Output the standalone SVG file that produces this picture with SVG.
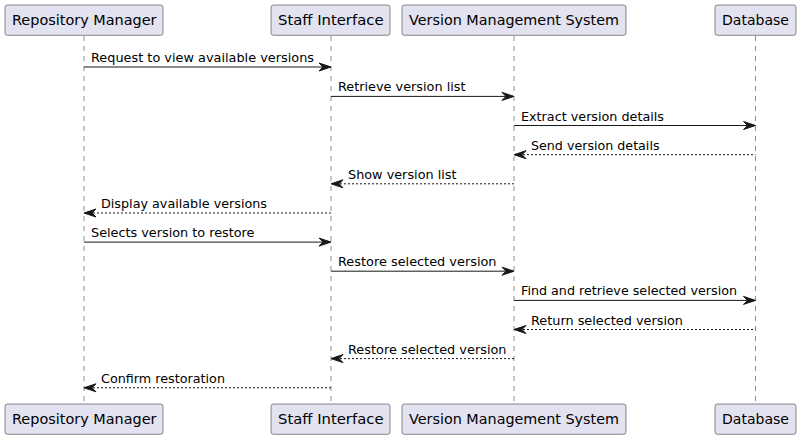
<svg xmlns="http://www.w3.org/2000/svg" width="801" height="440" viewBox="0 0 801 440">
<style>
.box{fill:#E2E2F0;stroke:#181818;stroke-width:0.5}
.life{stroke:#181818;stroke-width:0.5;stroke-dasharray:5,5;fill:none}
.pt{font-family:"DejaVu Sans",sans-serif;font-size:14px;fill:#000}
.mt{font-family:"DejaVu Sans",sans-serif;font-size:12.8px;fill:#000}
.msg{stroke:#181818;stroke-width:1;fill:none}
.ret{stroke:#181818;stroke-width:1;stroke-dasharray:2,2;fill:none}
.ah{fill:#181818;stroke:#181818;stroke-width:1}
</style>
<rect width="801" height="440" fill="#FFFFFF"/>
<g id="lifelines">
<line class="life" x1="84" y1="36" x2="84" y2="404"/>
<line class="life" x1="331" y1="36" x2="331" y2="404"/>
<line class="life" x1="514" y1="36" x2="514" y2="404"/>
<line class="life" x1="755.5" y1="36" x2="755.5" y2="404"/>
</g>
<g id="repository-manager">
<rect class="box" x="5" y="5" width="158" height="30.3" rx="2.5"/>
<text class="pt" x="12" y="25" textLength="144.5" lengthAdjust="spacingAndGlyphs">Repository Manager</text>
<rect class="box" x="5" y="404" width="158" height="30.3" rx="2.5"/>
<text class="pt" x="12" y="424" textLength="144.5" lengthAdjust="spacingAndGlyphs">Repository Manager</text>
</g>
<g id="staff-interface">
<rect class="box" x="271" y="5" width="119" height="30.3" rx="2.5"/>
<text class="pt" x="278" y="25" textLength="105.5" lengthAdjust="spacingAndGlyphs">Staff Interface</text>
<rect class="box" x="271" y="404" width="119" height="30.3" rx="2.5"/>
<text class="pt" x="278" y="424" textLength="105.5" lengthAdjust="spacingAndGlyphs">Staff Interface</text>
</g>
<g id="version-management-system">
<rect class="box" x="402" y="5" width="224" height="30.3" rx="2.5"/>
<text class="pt" x="409" y="25" textLength="210" lengthAdjust="spacingAndGlyphs">Version Management System</text>
<rect class="box" x="402" y="404" width="224" height="30.3" rx="2.5"/>
<text class="pt" x="409" y="424" textLength="210" lengthAdjust="spacingAndGlyphs">Version Management System</text>
</g>
<g id="database">
<rect class="box" x="715" y="5" width="81" height="30.3" rx="2.5"/>
<text class="pt" x="722" y="25" textLength="67" lengthAdjust="spacingAndGlyphs">Database</text>
<rect class="box" x="715" y="404" width="81" height="30.3" rx="2.5"/>
<text class="pt" x="722" y="424" textLength="67" lengthAdjust="spacingAndGlyphs">Database</text>
</g>
<g id="connectors">
<line class="msg" x1="84" y1="67" x2="330" y2="67"/>
<polygon class="ah" points="319,63 331,67 319,71 323,67"/>
<text class="mt" x="91" y="62" textLength="223" lengthAdjust="spacingAndGlyphs">Request to view available versions</text>

<line class="msg" x1="331" y1="96.4" x2="513" y2="96.4"/>
<polygon class="ah" points="502,92.4 514,96.4 502,100.4 506,96.4"/>
<text class="mt" x="338" y="91.4" textLength="127.5" lengthAdjust="spacingAndGlyphs">Retrieve version list</text>

<line class="msg" x1="514" y1="125.5" x2="754" y2="125.5"/>
<polygon class="ah" points="743.5,121.5 755.5,125.5 743.5,129.5 747.5,125.5"/>
<text class="mt" x="521" y="120.5" textLength="143" lengthAdjust="spacingAndGlyphs">Extract version details</text>

<line class="ret" x1="515" y1="154.7" x2="755.5" y2="154.7"/>
<polygon class="ah" points="526,150.7 514,154.7 526,158.7 522,154.7"/>
<text class="mt" x="531" y="149.7" textLength="128.5" lengthAdjust="spacingAndGlyphs">Send version details</text>

<line class="ret" x1="332" y1="183.8" x2="514" y2="183.8"/>
<polygon class="ah" points="343,179.8 331,183.8 343,187.8 339,183.8"/>
<text class="mt" x="348" y="178.8" textLength="108.5" lengthAdjust="spacingAndGlyphs">Show version list</text>

<line class="ret" x1="85" y1="213" x2="331" y2="213"/>
<polygon class="ah" points="96,209 84,213 96,217 92,213"/>
<text class="mt" x="101" y="208" textLength="166" lengthAdjust="spacingAndGlyphs">Display available versions</text>

<line class="msg" x1="84" y1="242.1" x2="330" y2="242.1"/>
<polygon class="ah" points="319,238.1 331,242.1 319,246.1 323,242.1"/>
<text class="mt" x="91" y="237.1" textLength="163.5" lengthAdjust="spacingAndGlyphs">Selects version to restore</text>

<line class="msg" x1="331" y1="271.2" x2="513" y2="271.2"/>
<polygon class="ah" points="502,267.2 514,271.2 502,275.2 506,271.2"/>
<text class="mt" x="338" y="266.2" textLength="158.5" lengthAdjust="spacingAndGlyphs">Restore selected version</text>

<line class="msg" x1="514" y1="300.4" x2="754" y2="300.4"/>
<polygon class="ah" points="743.5,296.4 755.5,300.4 743.5,304.4 747.5,300.4"/>
<text class="mt" x="521" y="295.4" textLength="216" lengthAdjust="spacingAndGlyphs">Find and retrieve selected version</text>

<line class="ret" x1="515" y1="329.5" x2="755.5" y2="329.5"/>
<polygon class="ah" points="526,325.5 514,329.5 526,333.5 522,329.5"/>
<text class="mt" x="531" y="324.5" textLength="152" lengthAdjust="spacingAndGlyphs">Return selected version</text>

<line class="ret" x1="332" y1="358.6" x2="514" y2="358.6"/>
<polygon class="ah" points="343,354.6 331,358.6 343,362.6 339,358.6"/>
<text class="mt" x="348" y="353.6" textLength="158.5" lengthAdjust="spacingAndGlyphs">Restore selected version</text>

<line class="ret" x1="85" y1="387.8" x2="331" y2="387.8"/>
<polygon class="ah" points="96,383.8 84,387.8 96,391.8 92,387.8"/>
<text class="mt" x="101" y="382.8" textLength="124" lengthAdjust="spacingAndGlyphs">Confirm restoration</text>
</g>
</svg>
